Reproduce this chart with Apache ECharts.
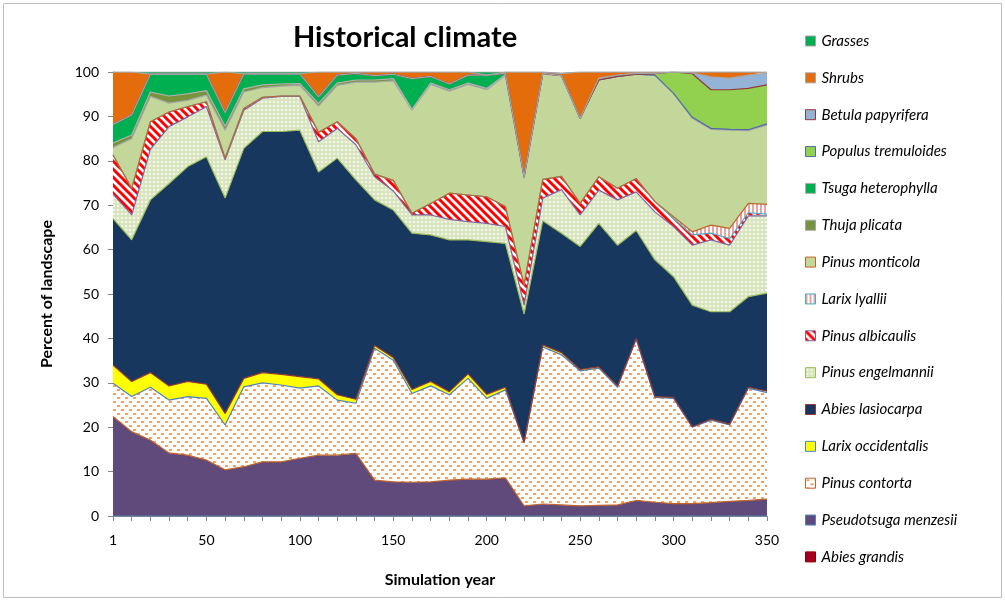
<html>
<head>
<meta charset="utf-8">
<title>Historical climate</title>
<script src="https://cdn.jsdelivr.net/npm/echarts@6/dist/echarts.min.js"></script>
<style>
  html, body { margin: 0; padding: 0; background: #fff; }
  #main { width: 1005px; height: 601px; }
</style>
</head>
<body>
<div id="main"></div>
<script type="text/javascript">
var years = [1, 10, 20, 30, 40, 50, 60, 70, 80, 90, 100, 110, 120, 130, 140, 150, 160, 170,
             180, 190, 200, 210, 220, 230, 240, 250, 260, 270, 280, 290, 300, 310, 320, 330, 340, 350];

var yTicks = [0, 10, 20, 30, 40, 50, 60, 70, 80, 90, 100];

// percent of landscape, bottom of the stack first
var abiesGrandis = [0, 0, 0, 0, 0, 0, 0, 0, 0, 0, 0, 0, 0, 0, 0, 0, 0, 0,
                    0, 0, 0, 0, 0, 0, 0, 0, 0, 0, 0, 0, 0, 0, 0, 0, 0, 0];
var pseudotsuga = [22.4, 19.0, 17.1, 14.2, 13.7, 12.6, 10.4, 11.1, 12.2, 12.2, 13.0, 13.7, 13.7, 14.1, 8.1, 7.7, 7.6, 7.7,
                   8.1, 8.3, 8.3, 8.6, 2.3, 2.7, 2.5, 2.3, 2.4, 2.5, 3.5, 3.1, 2.8, 2.8, 3.0, 3.3, 3.5, 3.8];
var pinusContorta = [7.5, 7.9, 11.9, 11.9, 13.2, 13.9, 10.1, 18.0, 17.8, 17.3, 15.8, 15.6, 12.4, 11.3, 29.7, 27.4, 20.0, 21.6,
                     19.2, 22.7, 18.2, 19.8, 14.2, 35.4, 33.8, 30.4, 30.9, 26.5, 36.3, 23.6, 23.7, 17.2, 18.6, 17.2, 25.3, 24.0];
var larixOcc = [4.1, 3.4, 3.3, 3.2, 3.4, 3.2, 2.6, 1.9, 2.3, 2.4, 2.6, 1.6, 1.2, 0.9, 0.6, 0.6, 0.9, 1.0,
                0.7, 1.0, 0.9, 0.6, 0.1, 0.4, 0.5, 0.3, 0.3, 0.3, 0.2, 0.2, 0.2, 0.1, 0.2, 0.2, 0.2, 0.3];
var abiesLas = [33.0, 31.9, 38.9, 45.6, 48.4, 51.2, 48.5, 51.8, 54.3, 54.7, 55.5, 46.6, 53.3, 49.4, 32.8, 33.2, 35.2, 33.0,
                34.2, 30.2, 34.4, 32.4, 28.9, 28.0, 26.9, 27.7, 32.3, 31.7, 24.3, 30.8, 27.2, 27.4, 24.2, 25.3, 20.4, 22.1];
var pinusEngel = [5.5, 5.6, 11.4, 12.8, 11.2, 11.3, 8.6, 8.6, 7.5, 7.9, 7.6, 6.8, 6.7, 7.9, 5.2, 4.3, 4.1, 4.5,
                  4.6, 4.1, 4.1, 3.8, 2.0, 5.1, 9.8, 7.1, 7.5, 10.2, 8.7, 10.8, 11.3, 13.5, 16.2, 15.0, 18.2, 17.4];
var pinusAlbic = [8.8, 6.0, 6.2, 3.3, 2.3, 1.1, 0.4, 0.4, 0.2, 0.1, 0.1, 2.1, 1.5, 1.4, 0.6, 2.4, 0.4, 2.6,
                  5.9, 6.0, 6.0, 4.5, 4.5, 4.2, 3.0, 2.6, 3.0, 2.6, 3.0, 2.3, 1.8, 2.3, 1.5, 1.5, 0.7, 0.4];
var larixLyallii = [0, 0, 0, 0, 0, 0, 0, 0, 0, 0, 0, 0, 0, 0, 0, 0, 0, 0,
                    0, 0, 0, 0, 0, 0, 0, 0, 0, 0, 0, 0, 0.4, 0.7, 1.8, 2.3, 2.1, 2.2];
var pinusMonticola = [1.7, 11.2, 5.7, 2.0, 1.4, 1.5, 6.3, 3.7, 2.2, 2.2, 2.4, 5.9, 8.2, 12.7, 20.7, 22.4, 23.2, 26.8,
                      23.0, 24.9, 24.1, 29.5, 24.0, 23.7, 22.7, 19.2, 21.8, 25.2, 23.5, 28.5, 27.8, 25.6, 21.6, 22.1, 16.4, 17.9];
var thuja = [1.0, 0.8, 1.0, 1.6, 1.5, 1.0, 0.9, 0.7, 0.6, 0.5, 0.4, 0.6, 0.5, 0.5, 0.5, 0.5, 0.2, 0.3,
             0.3, 0.3, 0.3, 0.2, 0.3, 0.1, 0, 0, 0, 0, 0, 0, 0, 0.2, 0.2, 0.2, 0.2, 0.2];
var tsuga = [4.2, 4.5, 4.0, 4.9, 4.4, 3.7, 3.0, 3.4, 2.5, 2.3, 2.2, 1.5, 1.8, 1.5, 1.0, 1.0, 6.9, 1.5,
             1.3, 1.8, 3.0, 0.3, 0.2, 0.1, 0, 0, 0, 0, 0, 0, 0, 0, 0, 0, 0, 0];
var populus = [0, 0, 0, 0, 0, 0, 0, 0, 0, 0, 0, 0, 0, 0, 0, 0, 0, 0,
               0, 0, 0, 0, 0, 0, 0, 0, 0, 0, 0, 0.3, 4.8, 9.8, 8.7, 8.9, 9.3, 8.8];
var betula = [0, 0, 0, 0, 0, 0, 0, 0, 0, 0, 0, 0, 0, 0, 0, 0, 0, 0,
              0, 0, 0, 0, 0, 0, 0, 0, 0.4, 0.3, 0.2, 0.1, 0, 0.2, 2.9, 2.6, 3.0, 2.6];
var shrubs = [11.8, 9.7, 0, 0, 0, 0, 9.2, 0, 0, 0, 0, 5.6, 0.7, 0.3, 0.8, 0.5, 1.5, 1.0,
              2.7, 0.7, 0, 0.3, 23.5, 0.3, 0.5, 10.4, 1.4, 0.7, 0.3, 0.3, 0, 0.2, 1.1, 1.4, 0.7, 0.3];
var grasses = [0, 0, 0.5, 0.5, 0.5, 0.5, 0, 0.4, 0.4, 0.4, 0.4, 0, 0, 0, 0, 0, 0, 0,
               0, 0, 0.7, 0, 0, 0, 0, 0, 0, 0, 0, 0, 0, 0, 0, 0, 0, 0];

function makeTile(w, h, draw) {
    var c = document.createElement('canvas');
    c.width = w; c.height = h;
    draw(c.getContext('2d'));
    return { image: c, repeat: 'repeat' };
}

// Pinus contorta: orange dots on white
var dotPattern = makeTile(8, 8, function (g) {
    g.fillStyle = '#ffffff'; g.fillRect(0, 0, 8, 8);
    g.fillStyle = '#f4a26b';
    g.fillRect(1, 1, 3, 2); g.fillRect(5, 5, 3, 2);
    g.fillStyle = '#f79646';
    g.fillRect(2, 2, 1, 1); g.fillRect(6, 6, 1, 1);
});
// Pinus engelmannii: fine light green grid
var gridPattern = makeTile(4, 4, function (g) {
    g.fillStyle = '#d8e5bf'; g.fillRect(0, 0, 4, 4);
    g.fillStyle = '#f1f6e8'; g.fillRect(1, 1, 2, 2);
});
// Pinus albicaulis: red and white diagonal stripes
var stripePattern = makeTile(8, 8, function (g) {
    g.fillStyle = '#ffffff'; g.fillRect(0, 0, 8, 8);
    g.strokeStyle = '#ff0000'; g.lineWidth = 3;
    g.beginPath();
    g.moveTo(-2, -2); g.lineTo(10, 10);
    g.moveTo(-6, 2); g.lineTo(2, 10);
    g.moveTo(6, -2); g.lineTo(14, 6);
    g.stroke();
});
// Larix lyallii: pink vertical stripes
var vStripePattern = makeTile(4, 4, function (g) {
    g.fillStyle = '#ffffff'; g.fillRect(0, 0, 4, 4);
    g.fillStyle = '#e6a4a2'; g.fillRect(0, 0, 2, 4);
});

var layers = [
    { name: 'Abies grandis', data: abiesGrandis, fill: '#a50021', border: '#8b0000' },
    { name: 'Pseudotsuga menzesii', data: pseudotsuga, fill: '#604a7b', border: '#4f81bd' },
    { name: 'Pinus contorta', data: pinusContorta, fill: dotPattern, border: '#c0642b' },
    { name: 'Larix occidentalis', data: larixOcc, fill: '#ffff00', border: '#4f81bd' },
    { name: 'Abies lasiocarpa', data: abiesLas, fill: '#17375e', border: '#953735' },
    { name: 'Pinus engelmannii', data: pinusEngel, fill: gridPattern, border: '#9bbb59' },
    { name: 'Pinus albicaulis', data: pinusAlbic, fill: stripePattern, border: '#7f64a2' },
    { name: 'Larix lyallii', data: larixLyallii, fill: vStripePattern, border: '#4bacc6' },
    { name: 'Pinus monticola', data: pinusMonticola, fill: '#c4d79b', border: '#c0642b' },
    { name: 'Thuja plicata', data: thuja, fill: '#77933c', border: '#a6a6a6' },
    { name: 'Tsuga heterophylla', data: tsuga, fill: '#00b050', border: '#b0b0b0' },
    { name: 'Populus tremuloides', data: populus, fill: '#92d050', border: '#4f6fa0' },
    { name: 'Betula papyrifera', data: betula, fill: '#95b3d7', border: '#953735' },
    { name: 'Shrubs', data: shrubs, fill: '#e46c0a', border: '#a6a6a6' },
    { name: 'Grasses', data: grasses, fill: '#00b050', border: '#a6a6a6' }
];

var series = layers.map(function (l, i) {
    var above = layers[i + 1];
    return {
        name: l.name,
        type: 'line',
        stack: 'total',
        data: l.data,
        symbol: 'none',
        showSymbol: false,
        lineStyle: { width: 1.2, color: above ? above.border : '#a6a6a6' },
        areaStyle: { color: l.fill, opacity: 1 },
        itemStyle: { color: l.fill, borderColor: l.border, borderWidth: 1 }
    };
});

var legendData = layers.slice().reverse().map(function (l) {
    return {
        name: l.name,
        icon: 'rect',
        itemStyle: { color: l.fill, borderColor: l.border, borderWidth: 1 }
    };
});

var option = {
    animation: false,
    backgroundColor: '#ffffff',
    textStyle: { fontFamily: 'Lato, "Open Sans", sans-serif' },
    title: {
        text: 'Historical climate',
        left: 400,
        textAlign: 'center',
        top: 18,
        textStyle: { fontSize: 29, fontWeight: 'bold', color: '#000', fontFamily: 'Lato, "Open Sans", sans-serif' }
    },
    legend: {
        orient: 'vertical',
        left: 800,
        top: 27,
        itemWidth: 10,
        itemHeight: 10,
        itemGap: 18.85,
        selectedMode: false,
        textStyle: { fontSize: 15, fontStyle: 'italic', color: '#000', lineHeight: 18, padding: [0, 0, 0, 1] },
        data: legendData
    },
    grid: { left: 113, right: 238, top: 72, bottom: 85 },
    xAxis: {
        type: 'category',
        boundaryGap: false,
        data: years,
        name: 'Simulation year',
        nameLocation: 'middle',
        nameGap: 56,
        nameTextStyle: { fontSize: 16, fontWeight: 'bold', color: '#000' },
        axisLine: { lineStyle: { color: '#868686' } },
        axisTick: { interval: 0, length: 5, lineStyle: { color: '#868686' } },
        axisLabel: { interval: 4, fontSize: 14, color: '#000', margin: 17 },
        splitLine: { show: false }
    },
    yAxis: {
        type: 'value',
        min: yTicks[0],
        max: yTicks[yTicks.length - 1],
        interval: 10,
        name: 'Percent of landscape',
        nameLocation: 'middle',
        nameGap: 58,
        nameTextStyle: { fontSize: 16, fontWeight: 'bold', color: '#000' },
        axisLine: { show: true, lineStyle: { color: '#868686' } },
        axisTick: { show: true, length: 5, lineStyle: { color: '#868686' } },
        axisLabel: { fontSize: 14, color: '#000', margin: 14 },
        splitLine: { show: false }
    },
    graphic: [{
        type: 'rect',
        shape: { x: 3.5, y: 3.5, width: 998, height: 594 },
        style: { fill: null, stroke: '#bfbfbf', lineWidth: 1 },
        silent: true,
        z: -1
    }],
    series: series
};

var myChart = echarts.init(document.getElementById('main'));
myChart.setOption(option);
</script>
</body>
</html>
